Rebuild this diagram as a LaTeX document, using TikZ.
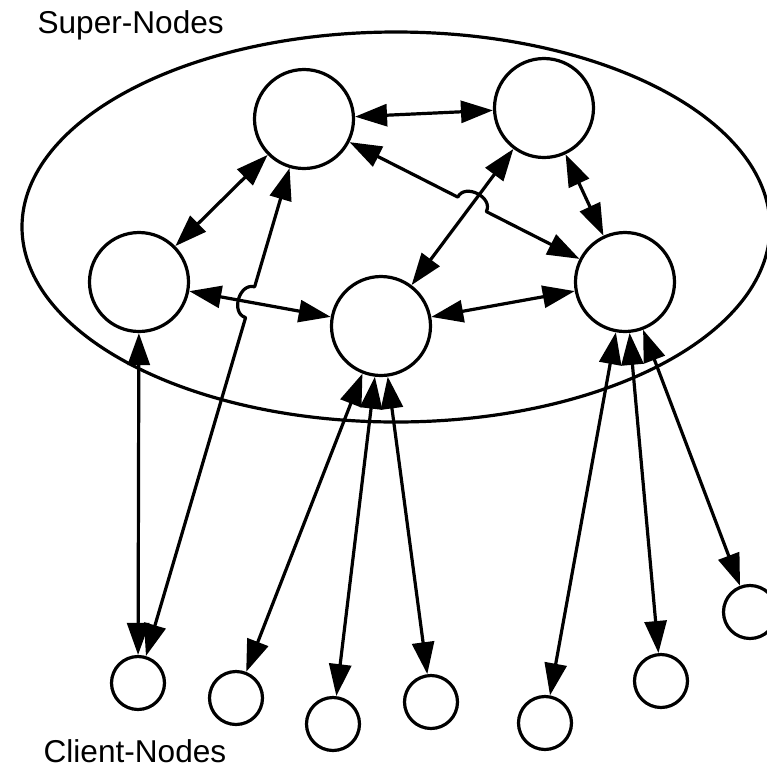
\documentclass[tikz,border=0pt]{standalone}
\usepackage{fontspec}
\setmainfont{Liberation Sans}
\usetikzlibrary{arrows.meta,calc}

\begin{document}
\begin{tikzpicture}[
	x=0.5pt,y=-0.5pt,
	>={Triangle[length=16pt,width=11pt]},
	line width=1.6pt,
	line join=round,
	super/.style={circle,draw,fill=white,minimum size=49.5pt,inner sep=0pt},
	client/.style={circle,draw,fill=white,minimum size=26.5pt,inner sep=0pt},
	grouptext/.style={anchor=base west,inner sep=0pt,font=\fontsize{15.8}{19}\selectfont}
	]
	\useasboundingbox (0,0) rectangle (767,768);
	\draw (396,227) ellipse [x radius=374, y radius=195];
	\node[grouptext] (supertext) at (36,33) {Super-Nodes};
	\node[grouptext] (clienttext) at (42,762) {Client-Nodes};
	\node[super] (S1) at (304,119) {};
	\node[super] (S2) at (544,108) {};
	\node[super] (S3) at (139,282) {};
	\node[super] (S4) at (381,326) {};
	\node[super] (S5) at (625,282) {};
	\node[client] (C1) at (138,683) {};
	\node[client] (C2) at (236,698) {};
	\node[client] (C3) at (333,724) {};
	\node[client] (C4) at (431,702) {};
	\node[client] (C5) at (545,723) {};
	\node[client] (C6) at (661,681) {};
	\node[client] (C7) at (750,612) {};
	\coordinate (h1) at (intersection of C1--S1 and S3--S4);
	\coordinate (h1a) at ($(h1)!8pt!(C1)$);
	\coordinate (h1b) at ($(h1)!8pt!(S1)$);
	\coordinate (h2) at (intersection of S1--S5 and S2--S4);
	\coordinate (h2a) at ($(h2)!8pt!(S1)$);
	\coordinate (h2b) at ($(h2)!8pt!(S5)$);
	\begin{scope}[<->]
		\draw (S1) -- (S2);
		\draw (S1) -- (S3);
		\draw (S2) -- (S5);
		\draw (S3) -- (S4);
		\draw (S4) -- (S5);
		\draw (S2) -- (S4);
		\draw (S1) -- (h2a) .. controls ($(h2a)!8pt!90:(h2)$) and ($(h2b)!8pt!-90:(h2)$) .. (h2b) -- (S5);
		\draw (S3) -- (C1);
		\draw (C1) -- (h1a) .. controls ($(h1a)!8pt!90:(h1)$) and ($(h1b)!8pt!-90:(h1)$) .. (h1b) -- (S1);
		\draw (S4) -- (C2);
		\draw (S4) -- (C3);
		\draw (S4) -- (C4);
		\draw (S5) -- (C5);
		\draw (S5) -- (C6);
		\draw (S5) -- (C7);
	\end{scope}
\end{tikzpicture}
\end{document}
